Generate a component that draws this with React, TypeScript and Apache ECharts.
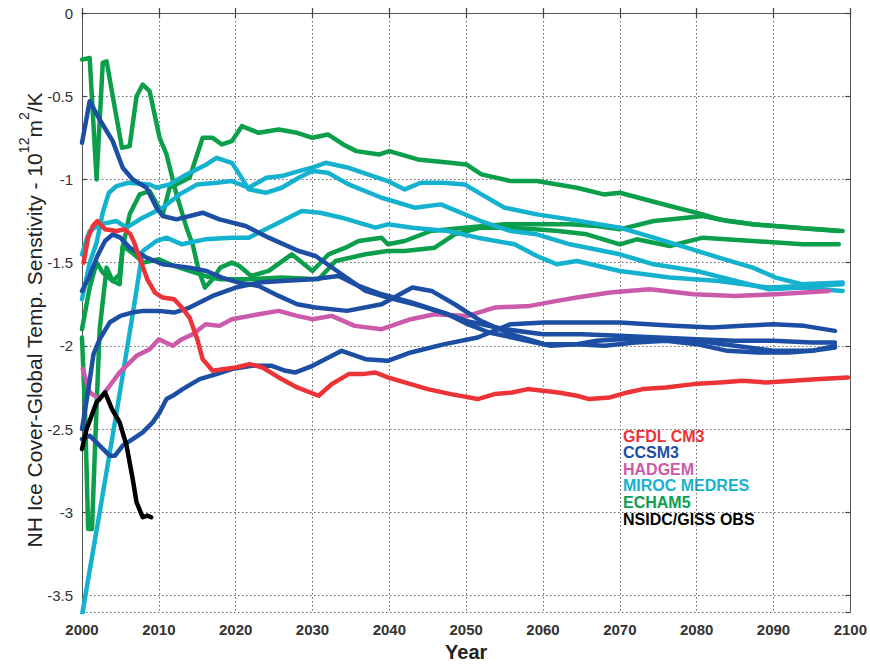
import React, { useEffect, useRef } from "react";
import * as echarts from "echarts";

type Pt = [number, number];

const xTicks = { min: 2000, max: 2100, step: 10 };
const yRange = { min: -3.6, max: 0 };

const yTitle = "{n|NH Ice Cover-Global Temp. Senstivity - 10}{sup|12}{n|m}{sup|2}{n|/K}";
const legendNames = ["GFDL CM3", "CCSM3", "HADGEM", "MIROC MEDRES", "ECHAM5", "NSIDC/GISS OBS"];
const legendColors = ["#ec3338", "#1c4ea3", "#cc5aab", "#14b2ce", "#0b9f4b", "#000000"];

const gfdlCm3: Pt[] = [[2000.2,-1.5],[2000.8,-1.35],[2001.4,-1.28],[2002,-1.25],[2003,-1.3],[2004.5,-1.31],[2005.5,-1.3],[2006.3,-1.33],[2006.8,-1.38],[2007.8,-1.51],[2008.5,-1.6],[2009.5,-1.68],[2010.5,-1.71],[2012,-1.72],[2013,-1.77],[2014,-1.83],[2015,-1.96],[2015.7,-2.08],[2017,-2.15],[2020,-2.13],[2021.8,-2.11],[2023.5,-2.13],[2025.6,-2.19],[2028,-2.25],[2030.8,-2.3],[2032.5,-2.23],[2034.7,-2.17],[2036.5,-2.17],[2038.2,-2.16],[2039.8,-2.19],[2042,-2.22],[2045,-2.26],[2048,-2.29],[2051.5,-2.32],[2053.7,-2.29],[2056,-2.28],[2058,-2.26],[2060,-2.27],[2062,-2.28],[2064.4,-2.3],[2066,-2.32],[2068.7,-2.31],[2071,-2.28],[2073,-2.26],[2076,-2.25],[2079.6,-2.23],[2083,-2.22],[2086,-2.21],[2089,-2.22],[2092.5,-2.21],[2096,-2.2],[2099.7,-2.19]];

const ccsm3A: Pt[] = [[2000,-0.78],[2001,-0.53],[2002.3,-0.64],[2004,-0.77],[2005.3,-0.93],[2006.6,-1.0],[2008.4,-1.05],[2009.7,-1.17],[2010.5,-1.22],[2012.3,-1.24],[2015.7,-1.2],[2017.9,-1.24],[2021.3,-1.28],[2024.3,-1.35],[2028.2,-1.43],[2030.4,-1.46],[2033.8,-1.57],[2036.9,-1.67],[2039.8,-1.71],[2043.3,-1.75],[2047.6,-1.81],[2050.2,-1.87],[2053,-1.92],[2056,-1.95],[2059,-1.98],[2061,-2.0],[2064.4,-1.99],[2067,-1.97],[2070,-1.96],[2075,-1.96],[2080,-1.97],[2085,-2.0],[2090,-2.03],[2095,-2.03],[2098,-2.01]];
const ccsm3B: Pt[] = [[2000,-1.67],[2001,-1.58],[2002,-1.46],[2003,-1.37],[2004,-1.33],[2005,-1.35],[2006.2,-1.41],[2008.4,-1.47],[2010.5,-1.51],[2014,-1.53],[2016.2,-1.55],[2018.2,-1.59],[2020.4,-1.62],[2023,-1.64],[2025.6,-1.7],[2028,-1.75],[2030.4,-1.77],[2034.5,-1.79],[2039,-1.75],[2043,-1.65],[2045.5,-1.67],[2048.5,-1.75],[2051.9,-1.85],[2055.8,-1.93],[2060.2,-1.99],[2064.4,-1.99],[2068,-2.0],[2072,-1.98],[2076,-1.97],[2080,-1.99],[2084,-2.03],[2088,-2.04],[2092,-2.04],[2095,-2.03],[2098,-2.0]];
const ccsm3C: Pt[] = [[2000,-2.5],[2000.7,-2.3],[2001.5,-2.05],[2002.3,-1.96],[2003.6,-1.86],[2005,-1.82],[2006.5,-1.8],[2008,-1.79],[2010,-1.79],[2012,-1.8],[2014,-1.77],[2017,-1.7],[2020,-1.65],[2023,-1.62],[2026,-1.61],[2030,-1.6],[2033.4,-1.58],[2036,-1.64],[2039,-1.69],[2043,-1.74],[2047,-1.8],[2050,-1.85],[2055,-1.9],[2060,-1.93],[2065,-1.93],[2070,-1.94],[2075,-1.95],[2080,-1.96],[2085,-1.97],[2090,-1.97],[2095,-1.98],[2098,-1.98]];
const ccsm3D: Pt[] = [[2000,-2.56],[2001,-2.54],[2002.3,-2.6],[2003.6,-2.66],[2004.3,-2.66],[2005.3,-2.6],[2006.6,-2.56],[2007.9,-2.52],[2009.2,-2.46],[2010.1,-2.4],[2011,-2.32],[2011.8,-2.3],[2013.1,-2.26],[2015.3,-2.2],[2017.5,-2.17],[2019.5,-2.14],[2022.1,-2.12],[2024.7,-2.12],[2026.5,-2.15],[2027.8,-2.16],[2030,-2.12],[2033.8,-2.03],[2036.9,-2.08],[2039.8,-2.09],[2042.8,-2.04],[2047.2,-1.99],[2051.5,-1.95],[2055.8,-1.87],[2060.2,-1.86],[2064.4,-1.86],[2070,-1.86],[2077,-1.88],[2082,-1.89],[2086,-1.88],[2090,-1.87],[2094,-1.88],[2098,-1.91]];

const hadgem: Pt[] = [[2000.1,-2.14],[2001,-2.28],[2002.3,-2.32],[2003.6,-2.24],[2004.9,-2.16],[2007.1,-2.06],[2008.8,-2.02],[2010,-1.96],[2011.8,-2.0],[2013,-1.96],[2014.4,-1.93],[2016.1,-1.87],[2017.9,-1.88],[2019.5,-1.84],[2023,-1.81],[2025.6,-1.79],[2028,-1.82],[2030,-1.84],[2032.5,-1.82],[2035.5,-1.88],[2039,-1.9],[2042.8,-1.84],[2045.9,-1.81],[2050.2,-1.82],[2053.7,-1.77],[2058.3,-1.76],[2061.8,-1.73],[2064.4,-1.71],[2068.7,-1.68],[2073.9,-1.66],[2079.6,-1.69],[2085,-1.7],[2090.3,-1.69],[2097.2,-1.67]];

const mirocA: Pt[] = [[2000,-1.45],[2000.6,-1.36],[2001,-1.31],[2002.3,-1.27],[2004.5,-1.25],[2005.8,-1.29],[2007.9,-1.23],[2010.5,-1.17],[2012.7,-1.09],[2015,-1.03],[2017.5,-1.02],[2019.5,-1.01],[2021.7,-1.05],[2024,-0.99],[2026,-0.98],[2028.2,-0.95],[2029.9,-0.93],[2031.7,-0.9],[2034.7,-0.93],[2039.8,-1.01],[2042,-1.06],[2044.1,-1.02],[2047,-1.02],[2049.8,-1.03],[2052,-1.09],[2055,-1.17],[2059.2,-1.21],[2063.5,-1.24],[2070,-1.29],[2074.4,-1.35],[2078.7,-1.41],[2082.9,-1.47],[2087.3,-1.53],[2090.3,-1.59],[2093.7,-1.63],[2099,-1.62]];
const mirocB: Pt[] = [[2000,-1.72],[2001,-1.5],[2001.9,-1.38],[2002.7,-1.2],[2003.5,-1.08],[2004.5,-1.04],[2006,-1.02],[2008.8,-1.03],[2009.7,-1.05],[2011.4,-1.03],[2013.6,-0.97],[2016.2,-0.91],[2017.5,-0.87],[2019.5,-0.9],[2020.5,-0.97],[2021.7,-1.06],[2024,-1.08],[2026,-1.05],[2028.2,-0.99],[2030,-0.95],[2032,-0.96],[2034.7,-1.03],[2039,-1.11],[2043.3,-1.17],[2046.7,-1.15],[2051.9,-1.25],[2055.8,-1.31],[2059.2,-1.33],[2063.5,-1.39],[2070,-1.45],[2074.4,-1.51],[2080,-1.55],[2085.1,-1.61],[2089.4,-1.66],[2093.7,-1.65],[2099,-1.67]];
const mirocC: Pt[] = [[2000,-3.62],[2002.3,-3.0],[2004.5,-2.4],[2006.6,-1.81],[2007.9,-1.43],[2009.7,-1.37],[2011,-1.35],[2013,-1.39],[2016,-1.36],[2019.5,-1.35],[2021.7,-1.35],[2025.2,-1.27],[2028.6,-1.19],[2031,-1.2],[2033.8,-1.23],[2038.2,-1.29],[2039.8,-1.27],[2043,-1.29],[2047.6,-1.31],[2051.5,-1.35],[2056.3,-1.39],[2059.2,-1.46],[2061.8,-1.51],[2064.4,-1.49],[2070,-1.55],[2076.5,-1.59],[2082.9,-1.61],[2089.4,-1.65],[2094,-1.64],[2099,-1.63]];

const echam5A: Pt[] = [[2000,-0.28],[2001,-0.27],[2001.9,-1.0],[2002.7,-0.3],[2003.2,-0.29],[2004,-0.5],[2005.2,-0.81],[2006.2,-0.8],[2007.1,-0.5],[2007.9,-0.43],[2008.8,-0.47],[2010.1,-0.75],[2011,-0.85],[2012.3,-1.09],[2013.6,-1.29],[2014.4,-1.39],[2015.2,-1.55],[2016,-1.65],[2017,-1.6],[2018,-1.53],[2019.5,-1.5],[2020.5,-1.52],[2022,-1.58],[2024.3,-1.55],[2027.3,-1.45],[2030,-1.55],[2032.1,-1.45],[2034.3,-1.41],[2036,-1.37],[2039,-1.35],[2039.8,-1.39],[2042,-1.37],[2045.4,-1.31],[2049.8,-1.29],[2055,-1.27],[2060.5,-1.27],[2063.5,-1.27],[2067,-1.28],[2070,-1.3],[2074.4,-1.25],[2078.7,-1.23],[2080.8,-1.22],[2084,-1.25],[2087.3,-1.27],[2093,-1.29],[2098.5,-1.31]];
const echam5B: Pt[] = [[2000,-1.95],[2000.4,-2.4],[2000.8,-3.1],[2001.3,-3.1],[2001.7,-2.6],[2002.3,-1.9],[2003.2,-1.53],[2004,-1.61],[2004.9,-1.63],[2005.3,-1.41],[2006.2,-1.21],[2007.5,-1.09],[2008.8,-1.07],[2010,-1.17],[2010.5,-1.21],[2011.4,-1.05],[2014,-0.99],[2015.7,-0.75],[2017,-0.75],[2018.2,-0.79],[2019.5,-0.77],[2020.8,-0.68],[2023,-0.72],[2025.6,-0.7],[2028,-0.72],[2030,-0.75],[2032,-0.73],[2034,-0.79],[2035.7,-0.83],[2038.7,-0.85],[2040,-0.83],[2043.7,-0.88],[2047.9,-0.9],[2050,-0.91],[2052,-0.97],[2055.8,-1.01],[2059.2,-1.01],[2064.4,-1.05],[2067.9,-1.09],[2070,-1.08],[2076.5,-1.16],[2080.8,-1.21],[2082.9,-1.24],[2087.3,-1.27],[2093,-1.29],[2099,-1.31]];
const echam5C: Pt[] = [[2000,-1.9],[2001,-1.65],[2001.9,-1.5],[2002.7,-1.56],[2004,-1.61],[2004.9,-1.57],[2005.3,-1.4],[2006.5,-1.44],[2008,-1.5],[2010,-1.48],[2012,-1.52],[2014,-1.55],[2016,-1.58],[2018,-1.6],[2021.7,-1.6],[2026,-1.59],[2030.8,-1.6],[2033,-1.49],[2036.9,-1.45],[2039.8,-1.43],[2042,-1.43],[2045.9,-1.41],[2048.5,-1.33],[2051.9,-1.29],[2055,-1.29],[2059,-1.3],[2062,-1.31],[2065.7,-1.33],[2070,-1.39],[2072.2,-1.36],[2076.5,-1.4],[2080.8,-1.35],[2087.3,-1.37],[2093.8,-1.39],[2098.5,-1.39]];

const nsidcObs: Pt[] = [[2000,-2.62],[2000.6,-2.5],[2001.9,-2.34],[2003,-2.28],[2003.9,-2.38],[2004.9,-2.46],[2005.8,-2.6],[2006.6,-2.8],[2007.1,-2.94],[2007.9,-3.03],[2008.5,-3.02],[2009,-3.03]];

const lineSets: { name: string; color: string; data: Pt[] }[] = [
  { name: "ECHAM5", color: legendColors[4], data: echam5A },
  { name: "ECHAM5", color: legendColors[4], data: echam5B },
  { name: "ECHAM5", color: legendColors[4], data: echam5C },
  { name: "MIROC MEDRES", color: legendColors[3], data: mirocA },
  { name: "MIROC MEDRES", color: legendColors[3], data: mirocB },
  { name: "MIROC MEDRES", color: legendColors[3], data: mirocC },
  { name: "HADGEM", color: legendColors[2], data: hadgem },
  { name: "CCSM3", color: legendColors[1], data: ccsm3A },
  { name: "CCSM3", color: legendColors[1], data: ccsm3B },
  { name: "CCSM3", color: legendColors[1], data: ccsm3C },
  { name: "CCSM3", color: legendColors[1], data: ccsm3D },
  { name: "GFDL CM3", color: legendColors[0], data: gfdlCm3 },
  { name: "NSIDC/GISS OBS", color: legendColors[5], data: nsidcObs },
];

const FONT = "Arial, 'Liberation Sans', Helvetica, sans-serif";

export default function App() {
  const ref = useRef<HTMLDivElement>(null);
  useEffect(() => {
    if (!ref.current) return;
    const chart = echarts.init(ref.current, null, { renderer: "svg" });
    const axisLineStyle = { color: "#555", width: 1 };
    const tickStyle = { color: "#444", width: 1.2 };
    const gridLine = { type: [1.5, 2.5], color: "#666", width: 1 };
    const option: any = {
      animation: false,
      backgroundColor: "#ffffff",
      grid: { left: 82, right: 15, top: 13, bottom: 46 },
      xAxis: [
        {
          type: "value",
          min: xTicks.min,
          max: xTicks.max,
          interval: xTicks.step,
          position: "bottom",
          axisLine: { show: true, lineStyle: axisLineStyle },
          axisTick: { show: true, inside: true, length: 5, lineStyle: tickStyle },
          axisLabel: {
            fontSize: 15,
            fontWeight: "bold",
            color: "#333",
            margin: 10,
            fontFamily: FONT,
            formatter: (v: number) => String(v),
          },
          splitLine: { show: true, lineStyle: gridLine },
          name: "Year",
          nameLocation: "middle",
          nameGap: 27,
          nameTextStyle: { fontSize: 20, fontWeight: "bold", color: "#222", fontFamily: FONT },
        },
        {
          type: "value",
          min: xTicks.min,
          max: xTicks.max,
          interval: xTicks.step,
          position: "top",
          axisLine: { show: true, lineStyle: axisLineStyle },
          axisTick: { show: true, inside: true, length: 5, lineStyle: tickStyle },
          axisLabel: { show: false },
          splitLine: { show: false },
        },
      ],
      yAxis: [
        {
          type: "value",
          min: yRange.min,
          max: yRange.max,
          splitNumber: 8,
          position: "left",
          axisLine: { show: true, lineStyle: axisLineStyle },
          axisTick: { show: true, inside: true, length: 5, lineStyle: tickStyle },
          axisLabel: { fontSize: 15, color: "#333", margin: 9, fontFamily: FONT, showMinLabel: false },
          splitLine: { show: true, lineStyle: gridLine },
        },
        {
          type: "value",
          min: yRange.min,
          max: yRange.max,
          splitNumber: 8,
          position: "right",
          axisLine: { show: true, lineStyle: axisLineStyle },
          axisTick: { show: true, inside: true, length: 5, lineStyle: tickStyle },
          axisLabel: { show: false },
          splitLine: { show: false },
        },
      ],
      series: lineSets.map((s) => ({
        type: "line",
        name: s.name,
        data: s.data,
        xAxisIndex: 0,
        yAxisIndex: 0,
        showSymbol: false,
        symbol: "none",
        clip: true,
        lineStyle: { color: s.color, width: 4.5, join: "round", cap: "round" },
        itemStyle: { color: s.color },
        emphasis: { disabled: true },
      })),
      graphic: [
        {
          type: "text",
          x: 31,
          y: 320,
          rotation: Math.PI / 2,
          style: {
            text: yTitle,
            align: "center",
            verticalAlign: "middle",
            fill: "#222",
            font: `21px ${FONT}`,
            rich: {
              n: { fontSize: 21, lineHeight: 28, fill: "#222", fontFamily: FONT, verticalAlign: "bottom" },
              sup: { fontSize: 14, lineHeight: 15, fill: "#222", fontFamily: FONT, verticalAlign: "top" },
            },
          },
        },
        ...legendNames.map((n, i) => ({
          type: "text",
          left: 623,
          top: 428 + i * 16.6,
          style: {
            text: n,
            fill: legendColors[i],
            font: `bold 16px ${FONT}`,
          },
        })),
      ],
    };
    chart.setOption(option);
    return () => chart.dispose();
  }, []);
  return (
    <div
      ref={ref}
      style={{ position: "absolute", left: 0, top: 0, width: 870, height: 667 }}
    />
  );
}
